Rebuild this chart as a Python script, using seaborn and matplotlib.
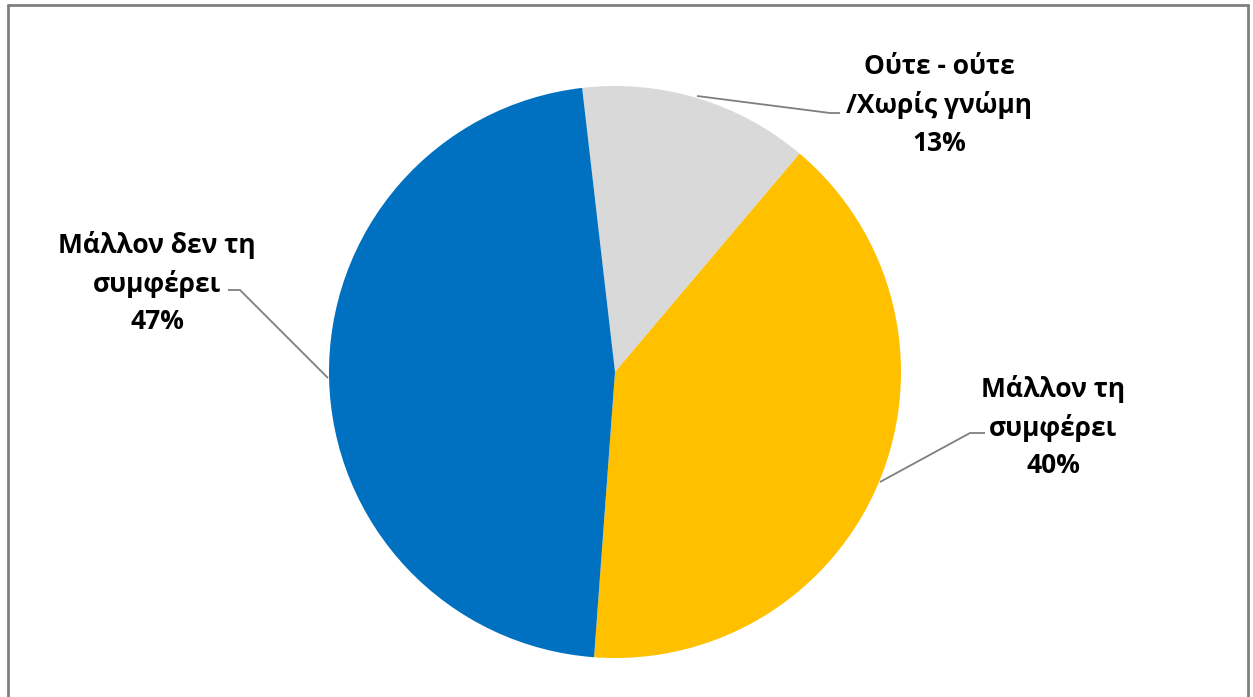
import matplotlib
matplotlib.use("Agg")
import matplotlib.pyplot as plt
from matplotlib.lines import Line2D
import seaborn as sns

# Chart data
labels = ["Ούτε - ούτε\n/Χωρίς γνώμη", "Μάλλον τη\nσυμφέρει", "Μάλλον δεν τη\nσυμφέρει"]
shares = [13, 40, 47]
colors = ["#D9D9D9", "#FFC000", "#0070C0"]

sns.set_style("white")
plt.rcParams['font.family'] = ['Open Sans', 'DejaVu Sans']

W, H = 1253, 697
fig = plt.figure(figsize=(W / 100, H / 100), dpi=100)
ax = fig.add_axes([0, 0, 1, 1])
ax.set_xlim(0, W)
ax.set_ylim(0, H)
ax.set_aspect("equal")
ax.axis("off")

cx, cy, r = 615, H - 372, 286
ax.pie(shares, colors=colors, startangle=96.6, counterclock=False,
       center=(cx, cy), radius=r, frame=False,
       wedgeprops=dict(linewidth=0))
ax.set_xlim(0, W)
ax.set_ylim(0, H)

# label positions (pixel space, y from top) and leader lines
label_pos = [(939, 105), (1053, 427), (157, 283)]
leaders = [
    [(697, 96), (830, 113), (840, 113)],
    [(880, 482), (970, 433), (985, 433)],
    [(328, 378), (240, 290), (228, 290)],
]

for lab, val, (tx, ty), pts in zip(labels, shares, label_pos, leaders):
    ax.text(tx, H - ty, f"{lab}\n{val}%", ha="center", va="center",
            fontsize=19, fontweight="bold", color="black", linespacing=1.5)
    xs = [p[0] for p in pts]
    ys = [H - p[1] for p in pts]
    ax.plot(xs, ys, color="#7F7F7F", lw=1.3, solid_capstyle="butt")

# outer chart border (bottom cut off)
bx0, by0, bx1 = 7.5 / W, 1 - 4.5 / H, 1248 / W
for xs, ys in [([bx0, bx1], [by0, by0]), ([bx0, bx0], [by0, -0.01]), ([bx1, bx1], [by0, -0.01])]:
    fig.add_artist(Line2D(xs, ys, transform=fig.transFigure, color="#808080", lw=2))

fig.savefig("out.png", dpi=100)
